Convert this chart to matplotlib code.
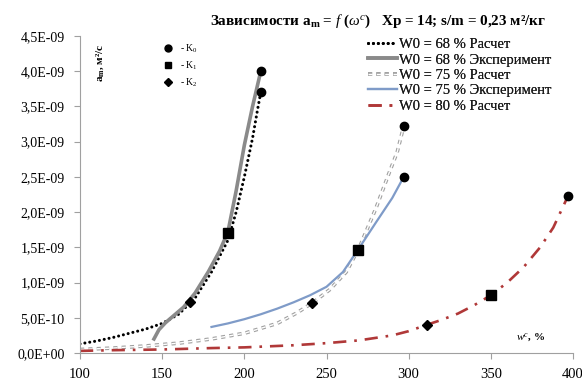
import matplotlib
matplotlib.use('Agg')
import matplotlib.pyplot as plt
import matplotlib.patheffects as path_effects
from matplotlib.lines import Line2D
from matplotlib.ticker import FuncFormatter, MultipleLocator

plt.rcParams['font.family'] = ['Liberation Serif', 'DejaVu Serif']
plt.rcParams['mathtext.fontset'] = 'custom'
plt.rcParams['mathtext.rm'] = 'Liberation Serif'
plt.rcParams['mathtext.it'] = 'Liberation Serif:italic'
plt.rcParams['mathtext.bf'] = 'Liberation Serif:bold'

# W0 = 68 % расчет
x68_calc = [100, 110, 120, 130, 140, 150, 160, 170, 180, 190, 195, 200, 205, 208, 210]
y68_calc = [0.13, 0.17, 0.22, 0.28, 0.34, 0.42, 0.55, 0.78, 1.15, 1.6, 2.0, 2.5, 3.05, 3.45, 3.7]
# W0 = 68 % эксперимент
x68_exp = [145, 148, 152, 157, 163, 170, 178, 185, 190, 195, 200, 205, 210]
y68_exp = [0.2, 0.33, 0.43, 0.53, 0.65, 0.85, 1.15, 1.45, 1.72, 2.3, 2.95, 3.5, 4.0]
# W0 = 75 % расчет
x75_calc = [100, 120, 140, 160, 180, 200, 220, 232, 242, 252, 262, 270, 280, 288, 293, 297]
y75_calc = [0.05, 0.07, 0.1, 0.14, 0.2, 0.28, 0.42, 0.57, 0.72, 0.9, 1.15, 1.5, 2.05, 2.55, 2.85, 3.22]
# W0 = 75 % эксперимент
x75_exp = [180, 190, 200, 210, 220, 230, 240, 250, 260, 269, 280, 290, 297]
y75_exp = [0.37, 0.42, 0.48, 0.55, 0.63, 0.72, 0.82, 0.94, 1.15, 1.46, 1.85, 2.2, 2.5]
# W0 = 80 % расчет
x80_calc = [100, 120, 150, 180, 200, 230, 250, 270, 290, 300, 311, 320, 330, 340, 350, 360, 370, 380, 388, 397]
y80_calc = [0.03, 0.04, 0.05, 0.07, 0.08, 0.11, 0.14, 0.18, 0.25, 0.31, 0.4, 0.47, 0.56, 0.68, 0.82, 1.0, 1.22, 1.5, 1.78, 2.23]

# точки K0, K1, K2
k0_x = [210, 210, 297, 297, 397]
k0_y = [4.0, 3.7, 3.22, 2.5, 2.23]
k1_x = [190, 269, 350]
k1_y = [1.7, 1.46, 0.82]
k2_x = [167, 241, 311]
k2_y = [0.72, 0.71, 0.40]

E = 1e-9

def sc(v):
    return [a * E for a in v]

fig = plt.figure(figsize=(5.82, 3.83), dpi=100)
ax = fig.add_axes([0.1375, 0.0783, 0.847, 0.8277])

l1, = ax.plot(x68_calc, sc(y68_calc), color='black', lw=2.2, linestyle=(0, (0.01, 1.6)),
              dash_capstyle='round', label='W0 = 68 % Расчет')
l2, = ax.plot(x68_exp, sc(y68_exp), color='#8a8a8a', lw=2.6, label='W0 = 68 % Эксперимент')
l3, = ax.plot(x75_calc, sc(y75_calc), color='white', lw=1.0, linestyle=(0, (3, 3)),
              path_effects=[path_effects.Stroke(linewidth=2.6, foreground='#a0a0a0'),
                            path_effects.Normal()],
              label='W0 = 75 % Расчет')
l4, = ax.plot(x75_exp, sc(y75_exp), color='#7f9bc8', lw=1.6, label='W0 = 75 % Эксперимент')
l5, = ax.plot(x80_calc, sc(y80_calc), color='#b03838', lw=1.9, linestyle=(0, (5, 3, 1, 3)),
              label='W0 = 80 % Расчет')

ax.plot(k0_x, sc(k0_y), 'o', color='black', ms=6, zorder=5)
ax.plot(k1_x, sc(k1_y), 's', color='black', ms=6.5, zorder=5)
ax.plot(k2_x, sc(k2_y), 'D', color='black', ms=5.5, zorder=5)

ax.set_xlim(100, 400)
ax.set_ylim(0, 4.5e-9)
ax.xaxis.set_major_locator(MultipleLocator(50))
ax.yaxis.set_major_locator(MultipleLocator(0.5e-9))
ax.yaxis.set_major_formatter(FuncFormatter(lambda v, p: f"{v:.1E}".replace('.', ',')))

for s in ['top', 'right']:
    ax.spines[s].set_visible(False)
for s in ['left', 'bottom']:
    ax.spines[s].set_color('#a0a0a0')
ax.tick_params(direction='out', length=4, color='#a0a0a0')
ax.tick_params(axis='x', pad=7, labelsize=10.5)
ax.tick_params(axis='y', pad=7, labelsize=10)

fig.text(0.361, 0.945, r'Зависимости a$_\mathbf{m}$ = $\mathit{f}$ ($\omega^{c}$)   Xp = 14; s/m = 0,23 м²/кг',
         fontsize=10.9, fontweight='bold', ha='left', va='center')

ax.text(0.04, 0.915, r'a$_\mathbf{m}$, м²/с', transform=ax.transAxes, rotation=90,
        fontsize=8, fontweight='bold', ha='center', va='center')
ax.text(0.913, 0.047, r'$\mathit{w}^{c}$, %', transform=ax.transAxes,
        fontsize=8, fontweight='bold', ha='center', va='center')

leg1 = fig.legend(handles=[l1, l2, l3, l4, l5], loc='upper left',
                  bbox_to_anchor=(368 / 582, 1 - 38 / 383), frameon=False,
                  prop={'family': 'Liberation Serif', 'size': 10.5},
                  handlelength=2.0, handletextpad=0.15,
                  labelspacing=0.15, borderpad=0, borderaxespad=0)
for t in leg1.get_texts():
    t.set_color('#1a1a1a')

kh = [Line2D([], [], marker='o', color='black', ls='none', ms=5),
      Line2D([], [], marker='s', color='black', ls='none', ms=4.5),
      Line2D([], [], marker='D', color='black', ls='none', ms=4)]
leg2 = ax.legend(handles=kh, labels=[r'- K$_0$', r'- K$_1$', r'- K$_2$'], loc='upper left',
                 bbox_to_anchor=(0.168, 0.98), frameon=False,
                 prop={'family': 'Liberation Serif', 'size': 7},
                 handlelength=1.0, handletextpad=0.8, labelspacing=0.45,
                 borderpad=0, borderaxespad=0)
ax.add_artist(leg1)

fig.savefig('out.png', dpi=100)
